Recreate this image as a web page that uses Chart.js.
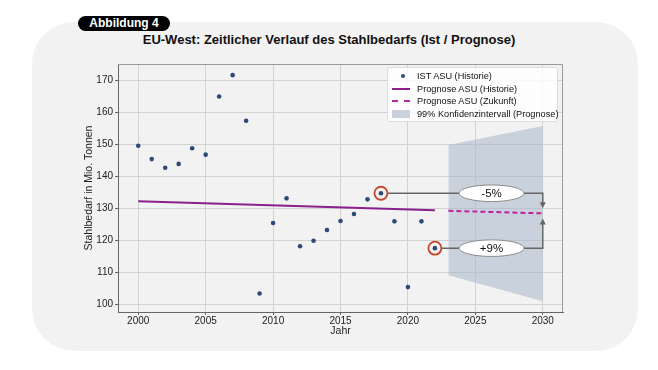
<!DOCTYPE html>
<html lang="de">
<head>
<meta charset="UTF-8">
<title>EU-West: Stahlbedarf</title>
<script src="https://cdn.jsdelivr.net/npm/chart.js"></script>
<style>
  body { margin: 0; width: 658px; height: 370px; background: #fff; position: relative; overflow: hidden;
         font-family: "Liberation Sans", Arial, sans-serif; color: #111; }
  .card { position: absolute; left: 32px; top: 22px; width: 606px; height: 329px; background: #f2f2f2; border-radius: 42px; }
  .badge { position: absolute; left: 78px; top: 16px; width: 92px; height: 15px; line-height: 15px; background: #000; color: #fff;
           border-radius: 8px; font-weight: bold; font-size: 12px; text-align: center; }
  .title { position: absolute; left: 0; top: 32px; width: 658px; text-align: center; font-weight: bold; font-size: 13px; }
  canvas { position: absolute; left: 0; top: 0; }
  .legend { position: absolute; left: 387px; top: 67px; width: 171px; height: 55px; background: rgba(255,255,255,0.85);
            border: 1px solid #dcdcdc; border-radius: 3px; box-sizing: border-box; padding-top: 2px; }
  .legend div { height: 12.7px; line-height: 12.7px; font-size: 9.2px; position: relative; padding-left: 29px; white-space: nowrap; }
  .legend span { position: absolute; left: 4px; top: 6px; }
  .dot { width: 4px; height: 4px; border-radius: 50%; background: #2c4a78; margin: -2px 0 0 9px; }
  .solid { width: 18px; border-top: 2px solid #8b1f8b; margin-top: -1px; }
  .dash { width: 18px; border-top: 2px dashed #b8289c; margin-top: -1px; }
  .band { width: 18px; height: 8px; background: #c9d1dc; margin-top: -4px; }
</style>
</head>
<body>
  <div class="card"></div>
  <div class="badge">Abbildung 4</div>
  <div class="title">EU-West: Zeitlicher Verlauf des Stahlbedarfs (Ist / Prognose)</div>
  <canvas id="chart" width="658" height="370"></canvas>
  <div class="legend">
    <div><span class="dot"></span>IST ASU (Historie)</div>
    <div><span class="solid"></span>Prognose ASU (Historie)</div>
    <div><span class="dash"></span>Prognose ASU (Zukunft)</div>
    <div><span class="band"></span>99% Konfidenzintervall (Prognose)</div>
  </div>

<script>
  // observed demand (Mio. t)
  const years = [2000, 2001, 2002, 2003, 2004, 2005, 2006, 2007, 2008, 2009, 2010,
                 2011, 2012, 2013, 2014, 2015, 2016, 2017, 2018, 2019, 2020, 2021, 2022];
  const actual = [149.6, 145.4, 142.7, 143.9, 148.8, 146.8, 165.0, 171.7, 157.4, 103.3, 125.4,
                  133.1, 118.1, 119.8, 123.2, 126.0, 128.2, 132.8, 134.7, 125.9, 105.3, 125.9, 117.5];

  // model line, history and forecast
  const histYears = [2000, 2022];
  const histFit = [132.2, 129.4];
  const futureYears = [2023, 2030];
  const futureFit = [129.2, 128.4];
  const bandLower = [109.0, 100.9];
  const bandUpper = [149.8, 155.8];

  // annotations
  const markYears = [2018, 2022];
  const markValues = [134.7, 117.5];
  const changeLabels = ['-5%', '+9%'];
  const labelYear = 2026.2;
  const arrowYear = 2030;
  const arrowEnds = [130.0, 126.8];

  const xTicks = [2000, 2005, 2010, 2015, 2020, 2025, 2030];
  const yTicks = [100, 110, 120, 130, 140, 150, 160, 170];

  const pts = (xs, ys) => xs.map((v, i) => ({ x: v, y: ys[i] }));

  const frame = {
    id: 'frame',
    beforeDatasetsDraw(chart) {
      const { ctx, chartArea: a } = chart;
      ctx.save();
      ctx.strokeStyle = '#9a9a9a';
      ctx.lineWidth = 1;
      ctx.beginPath();
      ctx.moveTo(a.left, a.top + 0.5);
      ctx.lineTo(a.right - 0.5, a.top + 0.5);
      ctx.lineTo(a.right - 0.5, a.bottom);
      ctx.stroke();
      ctx.restore();
    }
  };

  const callouts = {
    id: 'callouts',
    afterDatasetsDraw(chart) {
      const { ctx, scales: { x, y } } = chart;
      markYears.forEach((yr, i) => {
        const px = x.getPixelForValue(yr), py = y.getPixelForValue(markValues[i]);
        const lx = x.getPixelForValue(labelYear), ax = x.getPixelForValue(arrowYear);
        const ey = y.getPixelForValue(arrowEnds[i]);
        const dir = ey > py ? 1 : -1;
        ctx.save();
        ctx.strokeStyle = '#666';
        ctx.lineWidth = 1.5;
        ctx.beginPath();
        ctx.moveTo(px + 6.5, py);
        ctx.lineTo(ax, py);
        ctx.lineTo(ax, ey - dir * 4);
        ctx.stroke();
        ctx.fillStyle = '#666';
        ctx.beginPath();
        ctx.moveTo(ax, ey);
        ctx.lineTo(ax - 3, ey - dir * 6);
        ctx.lineTo(ax + 3, ey - dir * 6);
        ctx.closePath();
        ctx.fill();

        ctx.strokeStyle = '#c4462c';
        ctx.lineWidth = 1.8;
        ctx.beginPath();
        ctx.arc(px, py, 6.5, 0, Math.PI * 2);
        ctx.stroke();

        ctx.fillStyle = '#fff';
        ctx.strokeStyle = '#8a8a8a';
        ctx.lineWidth = 1;
        ctx.beginPath();
        ctx.ellipse(lx, py, 32.5, 8.3, 0, 0, Math.PI * 2);
        ctx.fill();
        ctx.stroke();

        ctx.fillStyle = '#111';
        ctx.font = '11.5px "Liberation Sans", Arial, sans-serif';
        ctx.textAlign = 'center';
        ctx.textBaseline = 'middle';
        ctx.fillText(changeLabels[i], lx, py + 0.5);
        ctx.restore();
      });
    }
  };

  const tickFont = { family: '"Liberation Sans", Arial, sans-serif', size: 10 };

  new Chart(document.getElementById('chart'), {
    type: 'scatter',
    data: {
      datasets: [
        {
          label: 'IST ASU (Historie)',
          data: pts(years, actual),
          backgroundColor: '#2c4a78',
          borderColor: '#2c4a78',
          pointRadius: 2.3,
          borderWidth: 0
        },
        {
          label: 'Prognose ASU (Historie)',
          data: pts(histYears, histFit),
          showLine: true,
          borderColor: '#8b1f8b',
          borderWidth: 2,
          pointRadius: 0
        },
        {
          label: 'Prognose ASU (Zukunft)',
          data: pts(futureYears, futureFit),
          showLine: true,
          borderColor: '#b8289c',
          borderWidth: 2,
          borderDash: [5, 3],
          pointRadius: 0
        },
        {
          label: '99% Konfidenzintervall (Prognose)',
          data: pts(futureYears, bandUpper),
          showLine: true,
          borderWidth: 0,
          borderColor: 'rgba(0,0,0,0)',
          backgroundColor: 'rgba(167,182,202,0.55)',
          fill: '+1',
          pointRadius: 0
        },
        {
          label: 'lower',
          data: pts(futureYears, bandLower),
          showLine: true,
          borderWidth: 0,
          borderColor: 'rgba(0,0,0,0)',
          pointRadius: 0
        }
      ]
    },
    options: {
      responsive: false,
      animation: false,
      layout: { padding: { top: 64, left: 76, right: 95, bottom: 28 } },
      plugins: {
        legend: { display: false },
        tooltip: { enabled: false }
      },
      scales: {
        x: {
          type: 'linear',
          min: 1998.5,
          max: 2031.5,
          afterBuildTicks: s => { s.ticks = xTicks.map(v => ({ value: v })); },
          afterFit: s => { s.height = 30; },
          ticks: { font: tickFont, color: '#222', padding: 0, callback: v => String(v) },
          grid: { color: '#d2d2d2', tickLength: 3, tickColor: '#666' },
          border: { color: '#666' },
          title: { display: true, text: 'Jahr', font: { ...tickFont, size: 10.5 }, color: '#222', padding: { top: 0, bottom: 5 } }
        },
        y: {
          min: 97.5,
          max: 175.2,
          afterBuildTicks: s => { s.ticks = yTicks.map(v => ({ value: v })); },
          afterFit: s => { s.width = 42; },
          ticks: { font: tickFont, color: '#222', padding: 2 },
          grid: { color: '#d2d2d2', tickLength: 3, tickColor: '#666' },
          border: { color: '#666' },
          title: { display: true, text: 'Stahlbedarf in Mio. Tonnen', font: { ...tickFont, size: 10.5 }, color: '#222', padding: { top: 7, bottom: 0 } }
        }
      }
    },
    plugins: [frame, callouts]
  });
</script>
</body>
</html>
